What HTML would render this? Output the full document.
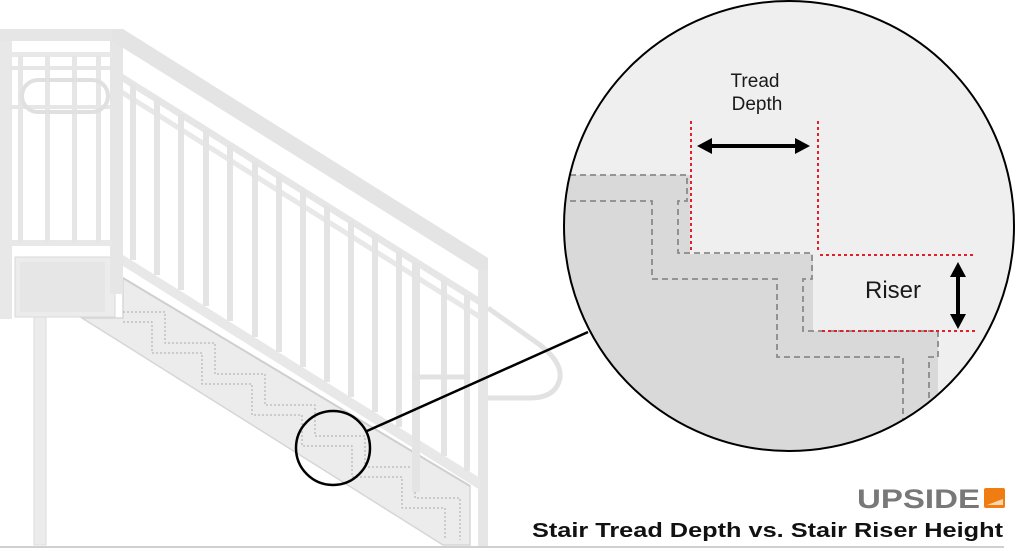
<!DOCTYPE html>
<html><head><meta charset="utf-8"><style>
html,body{margin:0;padding:0;background:#fff;width:1024px;height:551px;overflow:hidden}
svg{display:block}
</style></head><body>
<svg width="1024" height="551" viewBox="0 0 1024 551" xmlns="http://www.w3.org/2000/svg">
<defs>
<clipPath id="bc"><circle cx="789" cy="226" r="225"/></clipPath>
</defs>
<!-- ground -->
<line x1="0" y1="547" x2="1004" y2="547" stroke="#d0d0d0" stroke-width="2"/>
<!-- stringer -->
<polygon points="123,278 470,486 470,545 443,545 82,318 123,318" fill="#ececec" stroke="#d6d6d6" stroke-width="1.5"/>
<line x1="123" y1="278" x2="470" y2="486" stroke="#cfcfcf" stroke-width="2"/>
<!-- landing box -->
<rect x="15" y="257" width="100" height="60" fill="#ececec" stroke="#d8d8d8"/>
<rect x="20" y="262" width="85" height="50" fill="#e6e6e6"/>
<!-- dotted steps in stringer -->
<g fill="none" stroke="#aaa" stroke-width="1" stroke-dasharray="2 2">
<polyline points="123,312 165,312 165,343 215,343 215,374 265,374 265,405 315,405 315,436 365,436 365,467 415,467 415,498 460,498 460,540"/>
<polyline points="123,322 152,322 152,353 202,353 202,384 252,384 252,415 302,415 302,446 352,446 352,477 402,477 402,508 445,508 445,540"/>
</g>
<!-- posts -->
<rect x="34" y="317" width="12" height="228" fill="#ececec" stroke="#ddd"/>
<rect x="0" y="29" width="12" height="290" fill="#e8e8e8"/>
<rect x="110" y="29" width="13" height="265" fill="#e6e6e6"/>
<rect x="478" y="266" width="10" height="280" fill="#e6e6e6"/>
<!-- landing top rail -->
<rect x="0" y="29" width="123" height="12" fill="#e6e6e6"/>
<rect x="0" y="52" width="112" height="5" fill="#e8e8e8"/>
<rect x="0" y="240" width="112" height="6" fill="#e8e8e8"/>
<g fill="#e6e6e6">
<rect x="18" y="55" width="5" height="187"/><rect x="45" y="55" width="5" height="187"/>
<rect x="72" y="55" width="5" height="187"/><rect x="96" y="55" width="5" height="187"/>
<rect x="10" y="66" width="100" height="4"/><rect x="10" y="105" width="100" height="4"/>
</g>
<rect x="22" y="80" width="86" height="32" rx="16" fill="none" stroke="#e0e0e0" stroke-width="4"/>
<!-- diagonal top rail -->
<polygon points="112,29 123,29 488,258 488,270 478,270 112,41" fill="#e4e4e4"/>
<!-- mid rails -->
<polygon points="123,74 480,298 480,306 123,82" fill="#e6e6e6"/>
<polygon points="123,90 480,314 480,320 123,96" fill="#e8e8e8"/>
<!-- bottom guard rail -->
<polygon points="123,255 480,478 480,490 123,266" fill="#e8e8e8"/>
<!-- pickets -->
<g fill="#e4e4e4">
<rect x="130" y="84" width="6" height="176"/>
<rect x="154" y="99" width="6" height="176"/>
<rect x="178" y="114" width="6" height="176"/>
<rect x="203" y="130" width="6" height="176"/>
<rect x="227" y="145" width="6" height="176"/>
<rect x="252" y="161" width="6" height="176"/>
<rect x="276" y="176" width="6" height="176"/>
<rect x="300" y="191" width="6" height="176"/>
<rect x="324" y="206" width="6" height="176"/>
<rect x="348" y="221" width="6" height="176"/>
<rect x="372" y="236" width="6" height="176"/>
<rect x="396" y="251" width="6" height="176"/>
<rect x="412" y="262" width="8" height="230"/>
<rect x="441" y="280" width="6" height="176"/>
<rect x="464" y="295" width="6" height="176"/>
</g>
<!-- right handrail -->
<path d="M488,308 L540,345 Q562,362 560,378 Q556,398 530,398 L488,398" fill="none" stroke="#e2e2e2" stroke-width="5"/>
<line x1="412" y1="377" x2="470" y2="377" stroke="#e2e2e2" stroke-width="5"/>
<!-- small circle + connector -->
<circle cx="333" cy="448" r="37" fill="none" stroke="#000" stroke-width="2.5"/>
<line x1="367" y1="431" x2="588" y2="332" stroke="#000" stroke-width="2.5"/>
<!-- big circle -->
<circle cx="789" cy="226" r="225" fill="#efefef"/>
<g clip-path="url(#bc)">
<polygon points="560,175 690,175 690,254 813,254 813,331 938,331 938,460 560,460" fill="#d9d9d9"/>
<g fill="none" stroke="#8a8a8a" stroke-width="1.8" stroke-dasharray="6 4">
<polyline points="560,175 687,175 687,201 678,201 678,253 812,253 812,279 803,279 803,331 938,331 938,357 929,357 929,460"/>
<polyline points="560,201 652,201 652,279 777,279 777,357 903,357 903,460"/>
</g>
</g>
<circle cx="789" cy="226" r="225" fill="none" stroke="#000" stroke-width="2"/>
<!-- red dotted -->
<g stroke="#e0202a" stroke-width="2" stroke-dasharray="3 3" fill="none">
<line x1="691" y1="121" x2="691" y2="253"/>
<line x1="818" y1="121" x2="818" y2="253"/>
<line x1="820" y1="255" x2="976" y2="255"/>
<line x1="822" y1="331" x2="976" y2="331"/>
</g>
<!-- arrows -->
<line x1="708" y1="146" x2="800" y2="146" stroke="#000" stroke-width="4"/>
<polygon points="697,146 712,138 712,154" fill="#000"/>
<polygon points="810,146 795,138 795,154" fill="#000"/>
<line x1="958" y1="273" x2="958" y2="318" stroke="#000" stroke-width="4"/>
<polygon points="958,262 950,277 966,277" fill="#000"/>
<polygon points="958,329 950,314 966,314" fill="#000"/>
<!-- labels -->
<g font-family="Liberation Sans, sans-serif" fill="#1a1a1a">
<text x="755" y="87" font-size="19" text-anchor="middle">Tread</text>
<text x="757" y="110" font-size="19" text-anchor="middle">Depth</text>
<text x="893" y="298" font-size="24" text-anchor="middle">Riser</text>
</g>
<!-- logo -->
<text x="857" y="508" font-family="Liberation Sans, sans-serif" font-weight="bold" font-size="27" fill="#787878" textLength="123" lengthAdjust="spacingAndGlyphs">UPSIDE</text>
<rect x="984" y="488" width="21" height="20" rx="2" fill="#f07d12"/>
<polygon points="987,505 1003,499 1003,505" fill="#fbd7b0"/>
<!-- title -->
<text x="532" y="537" font-family="Liberation Sans, sans-serif" font-weight="bold" font-size="20" fill="#111" textLength="471" lengthAdjust="spacingAndGlyphs">Stair Tread Depth vs. Stair Riser Height</text>
</svg>
</body></html>
